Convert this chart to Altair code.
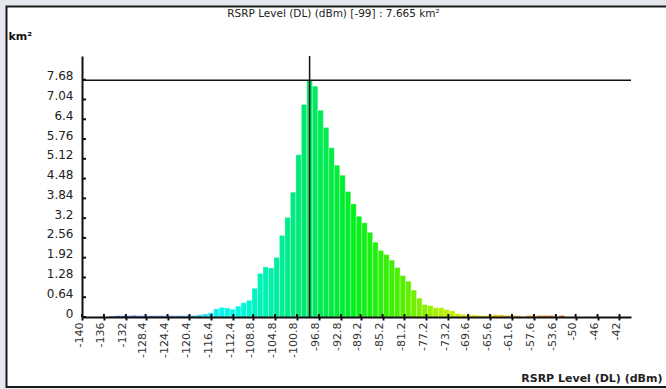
import altair as alt
import pandas as pd

# ---- data ----
rsrp_bins = list(range(-135, -52))  # 1 dBm bins, -135 .. -53
km2 = [
    0.03, 0.04, 0.04, 0.04, 0.05, 0.04, 0.04, 0.04, 0.04, 0.04,   # -135..-126
    0.04, 0.04, 0.04, 0.04, 0.05, 0.05, 0.07, 0.10, 0.14, 0.26,   # -125..-116
    0.31, 0.29, 0.25, 0.35, 0.46, 0.54, 0.93, 1.41, 1.62, 1.59,   # -115..-106
    1.93, 2.64, 3.22, 4.04, 5.25, 6.88, 7.665, 7.47, 6.69, 6.13,  # -105..-96
    5.48, 4.91, 4.59, 4.06, 3.66, 3.26, 3.05, 2.74, 2.42, 2.15,   # -95..-86
    2.02, 1.84, 1.60, 1.34, 1.16, 0.87, 0.61, 0.40, 0.37, 0.30,   # -85..-76
    0.30, 0.24, 0.20, 0.11, 0.08, 0.07, 0.07, 0.05, 0.04, 0.07,   # -75..-66
    0.07, 0.07, 0.05, 0.05, 0.04, 0.01, 0.05, 0.03, 0.05, 0.05,   # -65..-56
    0.05, 0.01, 0.05,                                             # -55..-53
]
x_ticks = [-140, -136, -132, -128.4, -124.4, -120.4, -116.4, -112.4, -108.8,
           -104.8, -100.8, -96.8, -92.8, -89.2, -85.2, -81.2, -77.2, -73.2,
           -69.6, -65.6, -61.6, -57.6, -53.6, -50, -46, -42]
y_ticks = [0, 0.64, 1.28, 1.92, 2.56, 3.2, 3.84, 4.48, 5.12, 5.76, 6.4, 7.04, 7.68]

df = pd.DataFrame({"rsrp": rsrp_bins, "km2": km2})
peak_i = df["km2"].idxmax()
peak_bin = int(df.loc[peak_i, "rsrp"])
peak_val = float(df.loc[peak_i, "km2"])
title_text = f"RSRP Level (DL) (dBm) [{peak_bin}] : {peak_val} km²"
peak_df = pd.DataFrame({"x": [peak_bin + 0.5], "y": [peak_val], "t": [title_text]})

W, H = 549, 261
FONT = "DejaVu Sans"
xscale = alt.Scale(domain=[-140, -39.9], nice=False, zero=False)
yscale = alt.Scale(domain=[0, 8.448], nice=False, zero=True)
cscale = alt.Scale(
    domain=[-135, -123, -118, -113, -107, -100, -91, -83, -75, -69, -63, -58, -53],
    range=["#2250dc", "#3a8ef0", "#18e6f8", "#00fbe8", "#00f2b0", "#00e870",
           "#00f020", "#48f000", "#b0f000", "#e4ea00", "#f0b400", "#f09000", "#f05a1e"],
    interpolate="rgb",
)

xaxis = alt.Axis(
    values=x_ticks, labelExpr="'' + datum.value", labelAngle=270,
    labelAlign="right", labelBaseline="alphabetic", labelFont=FONT,
    labelFontSize=11, labelColor="#333333", labelPadding=2,
    labelOverlap=False, labelFlush=False,
    tickSize=3, tickWidth=2, tickColor="#111111",
    domainColor="#111111", domainWidth=2, grid=False,
    title="RSRP Level (DL) (dBm)", titleFont=FONT, titleFontSize=11,
    titleFontWeight="bold", titleColor="#222222", titleAlign="right",
    titleBaseline="alphabetic", titleX=580, titleY=64, zindex=1,
)
yaxis = alt.Axis(
    values=y_ticks, labelExpr="'' + datum.value", labelFont=FONT,
    labelFontSize=12, labelColor="#222222", labelPadding=9,
    labelBaseline="alphabetic", labelOverlap=False, labelFlush=False,
    ticks=False, domainColor="#111111", domainWidth=2, grid=False,
    title="km²", titleAngle=0, titleFont=FONT, titleFontSize=11,
    titleFontWeight="bold", titleColor="#111111", titleAlign="left",
    titleBaseline="alphabetic", titleX=-74, titleY=-17, zindex=1,
)

frame = alt.Chart(pd.DataFrame({"k": [0]})).mark_rect(
    fill="white", stroke="#1a1a1a", strokeWidth=2
).encode(
    x=alt.value(-75.5), x2=alt.value(592), y=alt.value(-49.5), y2=alt.value(331)
)

title = alt.Chart(peak_df).mark_text(
    font=FONT, fontSize=10.5, color="#222222", align="center", baseline="alphabetic"
).encode(x=alt.value(333.5 - 82), y=alt.value(17 - 56), text="t:N")

bars = alt.Chart(df).transform_calculate(
    rsrp_end="datum.rsrp + 1"
).mark_rect(stroke="white", strokeWidth=0.6, strokeOpacity=0.5).encode(
    x=alt.X("rsrp:Q", scale=xscale, axis=xaxis),
    x2="rsrp_end:Q",
    y=alt.Y("km2:Q", scale=yscale, axis=yaxis),
    y2=alt.datum(0),
    color=alt.Color("rsrp:Q", scale=cscale, legend=None),
)

vline = alt.Chart(peak_df).mark_rule(color="#111111", strokeWidth=1.5).encode(
    x=alt.X("x:Q", scale=xscale, axis=xaxis)
)
hline = alt.Chart(peak_df).mark_rule(color="#111111", strokeWidth=1.5).encode(
    y=alt.Y("y:Q", scale=yscale, axis=yaxis)
)
ytick = alt.Chart(pd.DataFrame({"v": y_ticks})).mark_rule(
    color="#111111", strokeWidth=2
).encode(y=alt.Y("v:Q", scale=yscale, axis=yaxis), x=alt.value(0), x2=alt.value(4))
xtick = alt.Chart(pd.DataFrame({"v": x_ticks})).mark_rule(
    color="#111111", strokeWidth=2
).encode(x=alt.X("v:Q", scale=xscale, axis=xaxis), y=alt.value(H - 3), y2=alt.value(H))

chart = alt.layer(frame, title, bars, vline, hline, ytick, xtick).properties(
    width=W, height=H,
    autosize=alt.AutoSizeParams(type="none"),
    padding={"left": 82, "top": 56, "right": 35, "bottom": 72},
).configure(background="#e4e7ee").configure_view(strokeWidth=0)

chart.save("out.html", embed_options={"renderer": "svg", "actions": False})
